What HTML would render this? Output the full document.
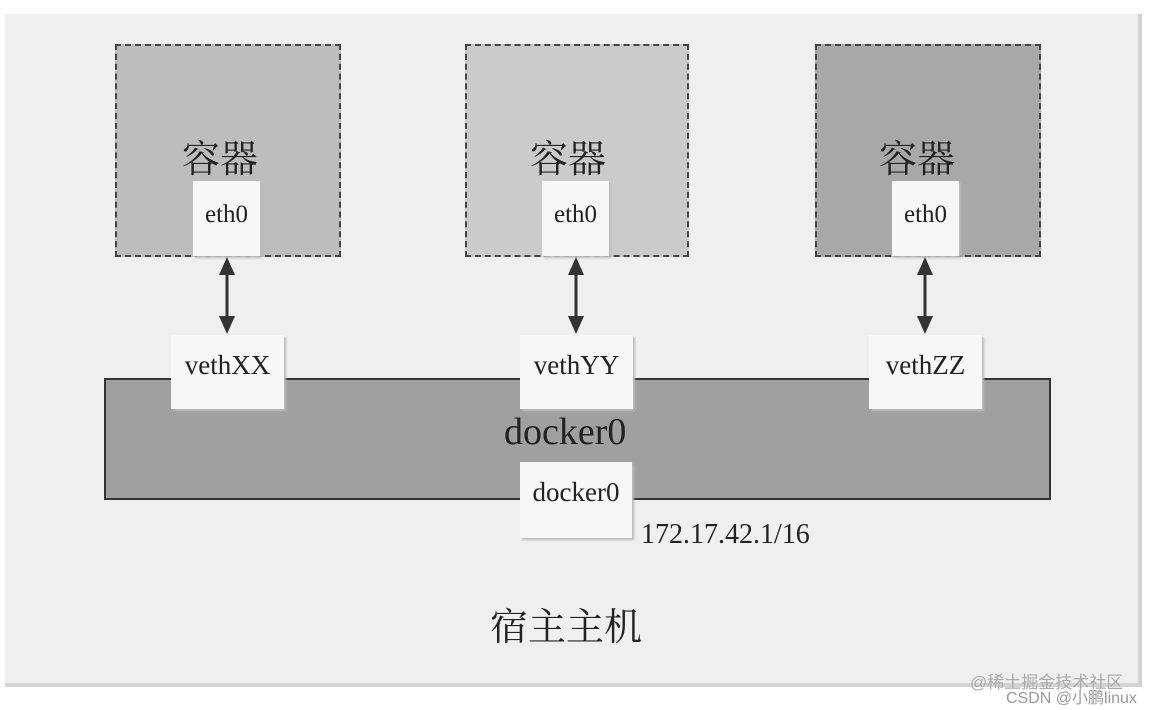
<!DOCTYPE html>
<html><head><meta charset="utf-8"><style>
body{margin:0;width:1152px;height:710px;background:#fff;position:relative;overflow:hidden;font-family:"Liberation Serif","Noto Serif CJK SC",serif;color:#222}
.a{position:absolute;box-sizing:border-box}
.cont{border:2px dashed #444;}
.w{background:#f7f7f7;box-shadow:2px 2px 2px #bbb;text-align:center}
.t{position:absolute;white-space:nowrap}
</style></head><body>
<div class="a" style="left:5px;top:14px;width:1137px;height:673px;background:#efefef;border-right:4px solid #d3d3d3;border-bottom:4px solid #d3d3d3"></div>
<div class="a cont" style="left:115px;top:44px;width:226px;height:213px;background:#bdbdbd"></div>
<div class="a cont" style="left:465px;top:44px;width:224px;height:213px;background:#cbcbcb"></div>
<div class="a cont" style="left:815px;top:44px;width:226px;height:213px;background:#a8a8a8"></div>
<div class="t" style="left:182px;top:128px;font-size:38px;font-family:'Noto Serif CJK SC',serif">容器</div>
<div class="t" style="left:530px;top:128px;font-size:38px;font-family:'Noto Serif CJK SC',serif">容器</div>
<div class="t" style="left:879px;top:128px;font-size:38px;font-family:'Noto Serif CJK SC',serif">容器</div>
<div class="a w" style="left:193px;top:181px;width:67px;height:75px;font-size:25px;padding-top:20px">eth0</div>
<div class="a w" style="left:542px;top:181px;width:67px;height:75px;font-size:25px;padding-top:20px">eth0</div>
<div class="a w" style="left:892px;top:181px;width:67px;height:75px;font-size:25px;padding-top:20px">eth0</div>
<div class="a" style="left:104px;top:378px;width:947px;height:122px;background:#a0a0a0;border:2px solid #333"></div>
<div class="a w" style="left:171px;top:335px;width:113px;height:74px;font-size:27px;padding-top:15px">vethXX</div>
<div class="a w" style="left:520px;top:335px;width:113px;height:74px;font-size:27px;padding-top:15px">vethYY</div>
<div class="a w" style="left:869px;top:335px;width:113px;height:74px;font-size:27px;padding-top:15px">vethZZ</div>
<div class="t" style="left:504px;top:410px;font-size:38px">docker0</div>
<div class="a w" style="left:520px;top:462px;width:112px;height:76px;font-size:27px;padding-top:15px">docker0</div>
<div class="t" style="left:641px;top:519px;font-size:28px">172.17.42.1/16</div>
<div class="t" style="left:490px;top:596px;font-size:38px;font-family:'Noto Serif CJK SC',serif">宿主主机</div>
<svg class="a" style="left:0;top:0" width="1152" height="710">
<g fill="#333" stroke="#333" stroke-width="3">
<line x1="227" y1="270" x2="227" y2="322"/><polygon stroke="none" points="227,257 219,275 235,275"/><polygon stroke="none" points="227,334 219,316 235,316"/>
<line x1="576" y1="270" x2="576" y2="322"/><polygon stroke="none" points="576,257 568,275 584,275"/><polygon stroke="none" points="576,334 568,316 584,316"/>
<line x1="925" y1="270" x2="925" y2="322"/><polygon stroke="none" points="925,257 917,275 933,275"/><polygon stroke="none" points="925,334 917,316 933,316"/>
</g></svg>
<div class="t" style="left:970px;top:668px;font-size:17px;color:#aaa;font-family:'Liberation Sans','Noto Sans CJK SC',sans-serif">@稀土掘金技术社区</div>
<div class="t" style="left:1006px;top:684px;font-size:16px;color:#999;font-family:'Liberation Sans','Noto Sans CJK SC',sans-serif">CSDN @小鹏linux</div>
</body></html>
